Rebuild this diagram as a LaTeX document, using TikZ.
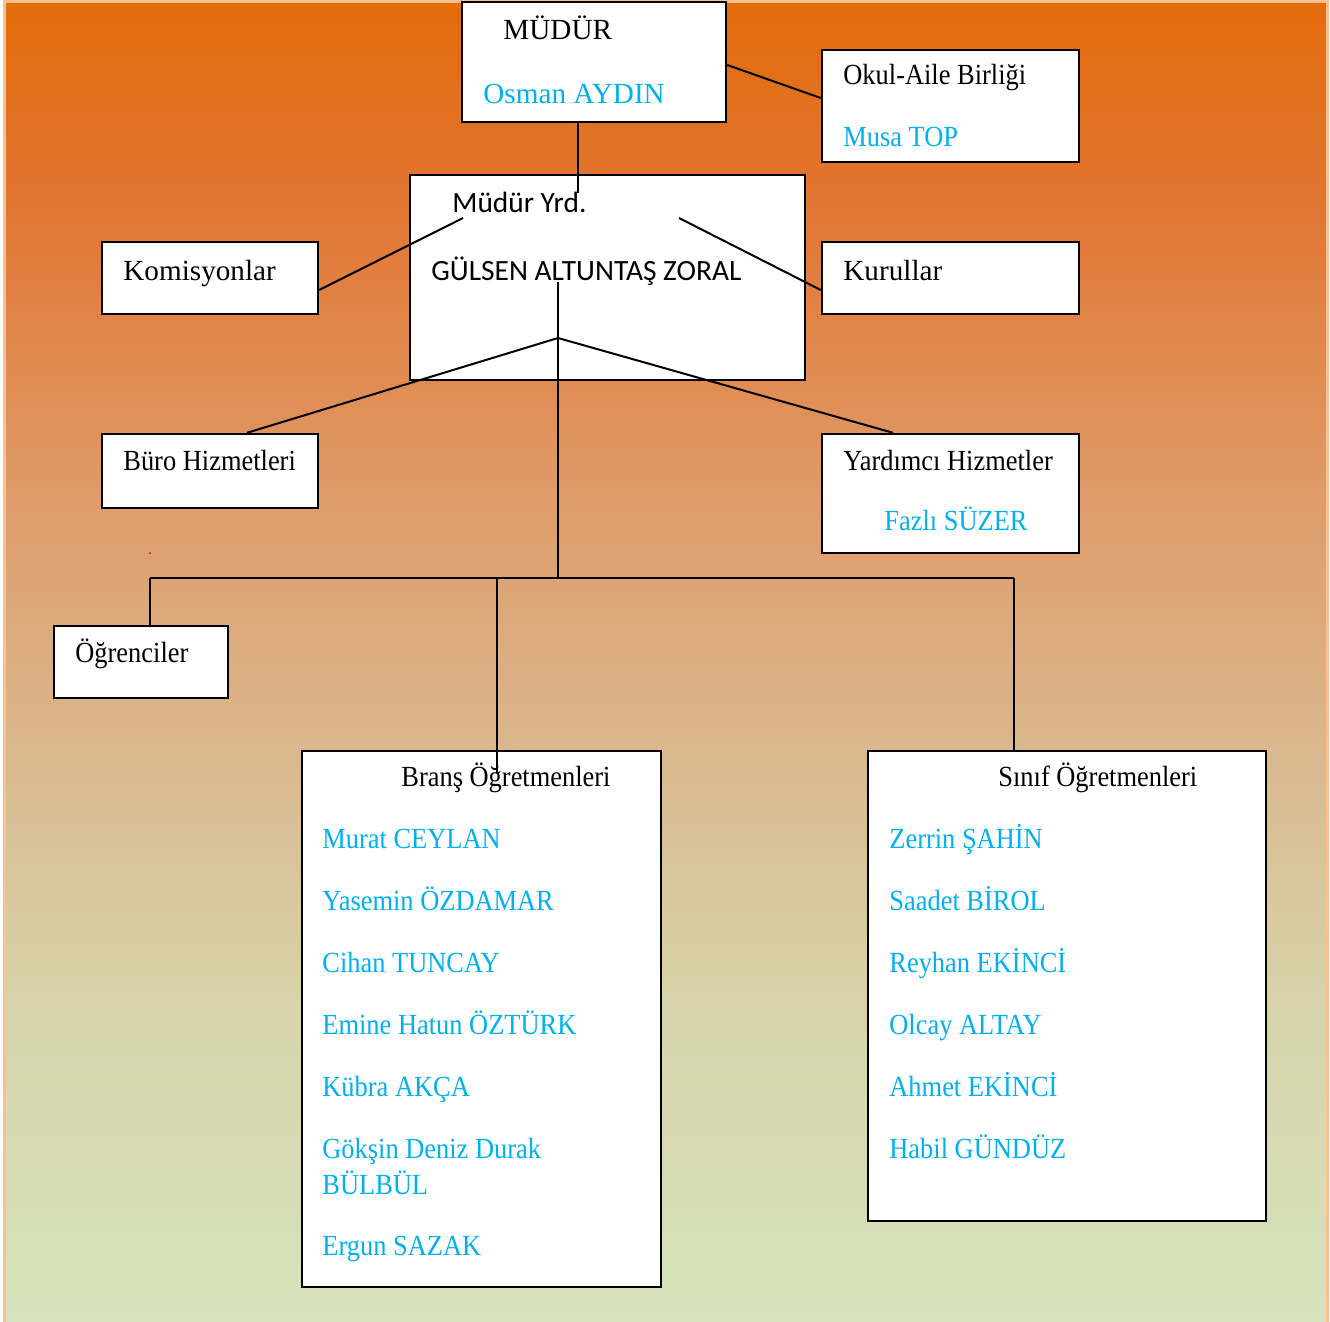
\documentclass[tikz,border=0pt]{standalone}
\usepackage{fontspec}
\setmainfont{Liberation Serif}
\newfontfamily\narrowserif[FakeStretch=0.905]{Liberation Serif}
\newfontfamily\calibrifont{Carlito}
\usetikzlibrary{fit}
\definecolor{nameblue}{RGB}{0,176,240}
\definecolor{bgA}{RGB}{227,108,10}
\definecolor{bgB}{RGB}{225,116,48}
\definecolor{bgC}{RGB}{223,156,106}
\definecolor{bgD}{RGB}{218,185,143}
\definecolor{bgE}{RGB}{215,211,170}
\definecolor{bgF}{RGB}{214,227,188}
\definecolor{bgborder}{RGB}{250,192,143}
\pgfdeclareverticalshading{bgshade}{100bp}{color(0bp)=(bgF); color(25bp)=(bgF); color(37.1bp)=(bgE); color(46.2bp)=(bgD); color(56.1bp)=(bgC); color(67.8bp)=(bgB); color(75bp)=(bgA); color(100bp)=(bgA)}
\tikzset{
  box/.style={draw=black, fill=white, line width=1.2pt, inner sep=0pt},
  txt/.style={anchor=base west, inner sep=0pt, font=\fontsize{14.6}{17}\selectfont},
  ntxt/.style={anchor=base west, inner sep=0pt, font=\narrowserif\fontsize{14.6}{17}\selectfont},
  nm/.style={ntxt, text=nameblue},
  wnm/.style={txt, text=nameblue},
  cal/.style={txt, font=\calibrifont\fontsize{14.7}{17}\selectfont},
  link/.style={draw=black, line width=1pt}
}
\begin{document}
\begin{tikzpicture}[x=0.5pt,y=-0.5pt]
\useasboundingbox (0,0) rectangle (1330,1322);
% background
\fill[white] (0,0) rectangle (1330,1322);
\shade[shading=bgshade] (4.5,1.5) rectangle (1327.5,1322);
\draw[bgborder, line width=1.5pt] (4.5,1322) -- (4.5,1.5) -- (1327.5,1.5) -- (1327.5,1322);

% boxes
\node[box, fit={(462,2) (726,122)}] (mudur) {};
\node[box, fit={(822,50) (1079,162)}] (okul) {};
\node[box, fit={(410,175) (805,380)}] (yrd) {};
\node[box, fit={(102,242) (318,314)}] (komis) {};
\node[box, fit={(822,242) (1079,314)}] (kurul) {};
\node[box, fit={(102,434) (318,508)}] (buro) {};
\node[box, fit={(822,434) (1079,553)}] (yard) {};
\node[box, fit={(54,626) (228,698)}] (ogr) {};
\node[box, fit={(302,751) (661,1287)}] (brans) {};
\node[box, fit={(868,751) (1266,1221)}] (sinif) {};

% texts
\node[txt] (tmudur) at (503,40) {MÜDÜR};
\node[wnm] (tosman) at (483,104) {Osman AYDIN};
\node[ntxt] (tokul) at (843,85) {Okul-Aile Birliği};
\node[nm] (tmusa) at (843,147) {Musa TOP};
\node[cal] (tyrd) at (452,213) {Müdür Yrd.};
\node[cal] (tgulsen) at (431,281) {GÜLSEN ALTUNTAŞ ZORAL};
\node[txt] (tkomis) at (123,280) {Komisyonlar};
\node[txt] (tkurul) at (843,280) {Kurullar};
\node[ntxt] (tburo) at (123,470) {Büro Hizmetleri};
\node[ntxt] (tyard) at (843,470) {Yardımcı Hizmetler};
\node[nm] (tfazli) at (884,530) {Fazlı SÜZER};
\node[ntxt] (togr) at (75,662) {Öğrenciler};
\node[ntxt] (tbrans) at (401,786) {Branş Öğretmenleri};
\node[nm] (b1) at (322,848) {Murat CEYLAN};
\node[nm] (b2) at (322,910) {Yasemin ÖZDAMAR};
\node[nm] (b3) at (322,972) {Cihan TUNCAY};
\node[nm] (b4) at (322,1034) {Emine Hatun ÖZTÜRK};
\node[nm] (b5) at (322,1096) {Kübra AKÇA};
\node[nm] (b6) at (322,1158) {Gökşin Deniz Durak};
\node[nm] (b6b) at (322,1194) {BÜLBÜL};
\node[nm] (b7) at (322,1255) {Ergun SAZAK};
\node[ntxt] (tsinif) at (998,786) {Sınıf Öğretmenleri};
\node[nm] (s1) at (889,848) {Zerrin ŞAHİN};
\node[nm] (s2) at (889,910) {Saadet BİROL};
\node[nm] (s3) at (889,972) {Reyhan EKİNCİ};
\node[nm] (s4) at (889,1034) {Olcay ALTAY};
\node[nm] (s5) at (889,1096) {Ahmet EKİNCİ};
\node[nm] (s6) at (889,1158) {Habil GÜNDÜZ};

% connector end points
\coordinate (yrdtop) at (578,193);
\coordinate (yrdL) at (463,218);
\coordinate (yrdR) at (679,218);
\coordinate (ctop) at (558,282);
\coordinate (apex) at (558,338);
\coordinate (hub) at (558,578);
\coordinate (hl) at (150,578);
\coordinate (hb) at (497,578);
\coordinate (hr) at (1014,578);
\coordinate (bransend) at (497,773);
\coordinate (buroX) at (247,0);
\coordinate (yardX) at (893,0);

% connectors
\draw[link] ([yshift=-1.5pt]mudur.east) -- ([yshift=4pt]okul.west);
\draw[link] (mudur.south -| yrdtop) -- (yrdtop);
\draw[link] ([yshift=-6pt]komis.east) -- (yrdL);
\draw[link] (yrdR) -- ([yshift=-6pt]kurul.west);
\draw[link] (ctop) -- (hub);
\draw[link] (apex) -- (buro.north -| buroX);
\draw[link] (apex) -- (yard.north -| yardX);
\draw[link] (hl) -- (hr);
\draw[link] (hl) -- (hl |- ogr.north);
\draw[link] (hr) -- (hr |- sinif.north);
\draw[link] (hb) -- (bransend);
\fill[red!70!black] (150,553) circle (0.5pt);
\end{tikzpicture}
\end{document}
